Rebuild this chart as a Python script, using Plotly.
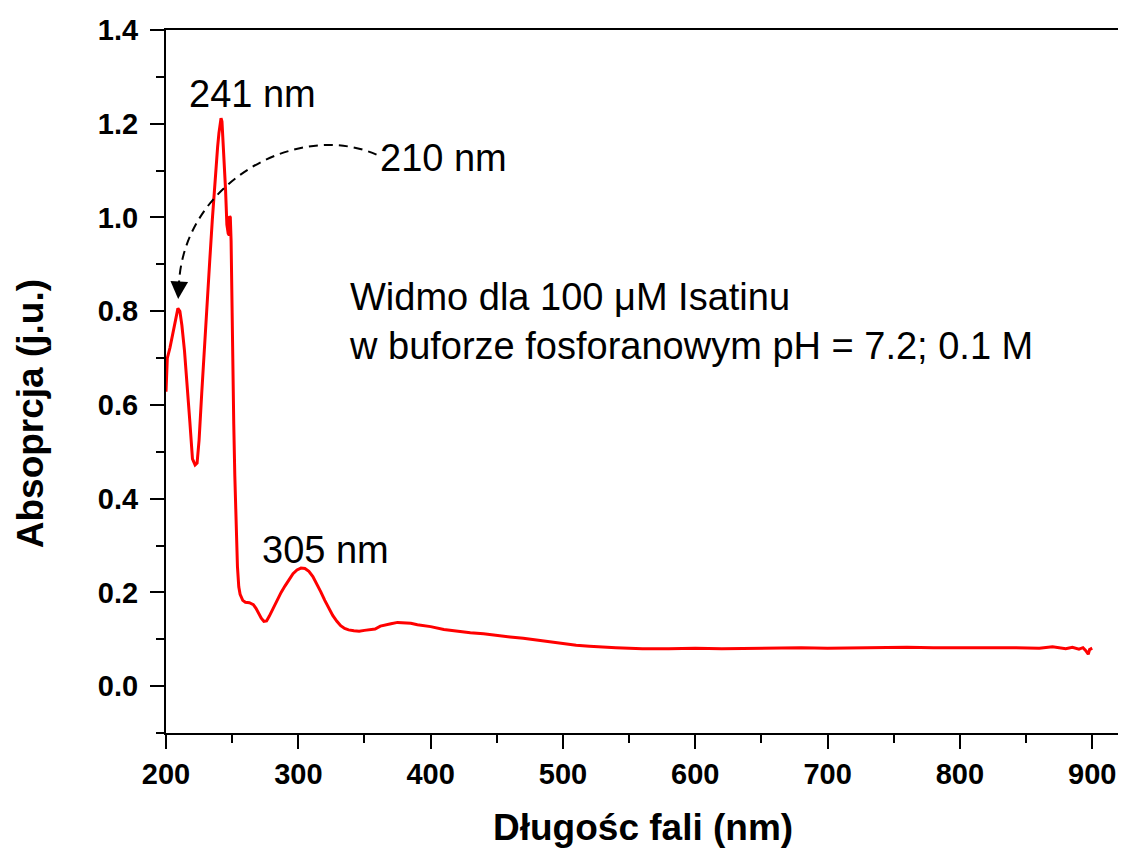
import plotly.graph_objects as go

# UV-Vis spectrum in three pieces
wl_peaks = [200, 200.4, 201, 203, 205, 207, 209, 210.5, 212, 214,
            216, 218, 220, 222, 223.5, 225, 227, 229, 231, 233,
            235, 237, 239, 240, 241, 241.6, 242.3, 243, 244, 245,
            246, 247, 247.8, 248.1, 248.6, 249.2, 250, 250.6, 251.2, 252,
            253, 254, 255, 256]
ab_peaks = [0.628, 0.690, 0.700, 0.722, 0.750, 0.785, 0.806, 0.800, 0.770, 0.715,
            0.645, 0.565, 0.485, 0.472, 0.476, 0.525, 0.625, 0.725, 0.815, 0.905,
            0.995, 1.080, 1.150, 1.180, 1.203, 1.212, 1.205, 1.170, 1.125, 1.060,
            0.985, 0.966, 0.962, 1.003, 1.000, 0.950, 0.760, 0.650, 0.560, 0.450,
            0.330, 0.255, 0.212, 0.196]

wl_band = [258, 260, 263, 266, 268, 270, 272, 274, 276, 278,
           281, 284, 287, 290, 293, 296, 299, 302, 305, 308,
           311, 314, 317, 320, 323, 326, 329, 332, 335, 338,
           342, 346, 350, 354, 358, 362, 366, 370, 375, 380,
           385, 390, 395, 400]
ab_band = [0.183, 0.179, 0.178, 0.174, 0.166, 0.155, 0.145, 0.138, 0.139, 0.149,
           0.166, 0.184, 0.200, 0.214, 0.228, 0.240, 0.248, 0.252, 0.251, 0.245,
           0.234, 0.219, 0.201, 0.183, 0.166, 0.151, 0.139, 0.129, 0.123, 0.120,
           0.118, 0.117, 0.119, 0.121, 0.122, 0.128, 0.131, 0.133, 0.136, 0.135,
           0.134, 0.131, 0.129, 0.127]

wl_tail = [410, 420, 430, 440, 450, 460, 470, 480, 490, 500,
           510, 520, 530, 540, 550, 560, 580, 600, 620, 640,
           660, 680, 700, 720, 740, 760, 780, 800, 820, 840,
           860, 870, 880, 885, 890, 893, 895, 897, 898, 900]
ab_tail = [0.121, 0.117, 0.114, 0.112, 0.108, 0.105, 0.102, 0.098, 0.094, 0.090,
           0.087, 0.085, 0.083, 0.082, 0.081, 0.080, 0.080, 0.081, 0.080, 0.081,
           0.081, 0.082, 0.081, 0.082, 0.082, 0.083, 0.082, 0.082, 0.083, 0.082,
           0.081, 0.084, 0.080, 0.083, 0.079, 0.082, 0.076, 0.068, 0.078, 0.081]

x_ticks = [200, 300, 400, 500, 600, 700, 800, 900]
y_ticks = [0.0, 0.2, 0.4, 0.6, 0.8, 1.0, 1.2, 1.4]

FONT = "Liberation Sans, Arial, sans-serif"

fig = go.Figure()
fig.add_trace(go.Scatter(
    x=wl_peaks + wl_band + wl_tail,
    y=ab_peaks + ab_band + ab_tail,
    mode="lines", line=dict(color="#ff0000", width=3),
    showlegend=False, hoverinfo="skip"))

axis_common = dict(
    showgrid=False, zeroline=False, showline=True, linecolor="black",
    linewidth=2, mirror=True, ticks="outside", ticklen=14, tickwidth=2,
    tickcolor="black",
    tickfont=dict(family=FONT, size=29, color="black", weight="bold"),
)

fig.update_xaxes(range=[200, 921], tickmode="array", tickvals=x_ticks,
                 minor=dict(dtick=50, tick0=200, ticks="outside", ticklen=8,
                            tickwidth=2, tickcolor="black"),
                 **axis_common)
fig.update_yaxes(range=[-0.1, 1.4], tickmode="array", tickvals=y_ticks,
                 tickformat=".1f", ticklabelstandoff=6,
                 minor=dict(dtick=0.1, tick0=0, ticks="outside", ticklen=8,
                            tickwidth=2, tickcolor="black"),
                 **axis_common)

# curved dashed arrow from the "210 nm" label down to the first peak
fig.add_shape(type="path", xref="x", yref="y",
              path="M 359.1,1.134 C 301.1,1.207 214.3,1.079 209.8,0.860",
              line=dict(color="black", width=2, dash="9px,6px"))

label_font = dict(family=FONT, size=38, color="black")
title_font = dict(family=FONT, size=37, color="black", weight="bold")
fig.update_layout(
    # page body adds an 8px margin, so the figure is shifted by 8px
    width=1118, height=844,
    margin=dict(l=158, r=4, t=22, b=119),
    plot_bgcolor="white", paper_bgcolor="white",
    annotations=[
        dict(x=209.2, y=0.826, ax=1, ay=-16, text="", showarrow=True,
             arrowhead=2, arrowsize=2.2, arrowwidth=1.6, arrowcolor="black"),
        dict(x=265.6, y=1.264, text="241 nm", showarrow=False, font=label_font),
        dict(x=320.7, y=0.29, text="305 nm", showarrow=False, font=label_font),
        dict(x=409.7, y=1.126, text="210 nm", showarrow=False, font=label_font),
        dict(x=336.6, y=0.777, xanchor="left", align="left", showarrow=False,
             text="Widmo dla 100 μM Isatinu<br>w buforze fosforanowym pH = 7.2; 0.1 M",
             font=label_font),
        dict(xref="paper", yref="paper", x=0.5, y=-0.135,
             xanchor="center", yanchor="middle", showarrow=False,
             text="Długośc fali (nm)", font=title_font),
        dict(xref="paper", yref="paper", x=-0.1412, y=0.4538,
             xanchor="center", yanchor="middle", showarrow=False,
             textangle=-90, text="Absoprcja (j.u.)", font=title_font),
    ],
)

fig.write_html("out.html")
